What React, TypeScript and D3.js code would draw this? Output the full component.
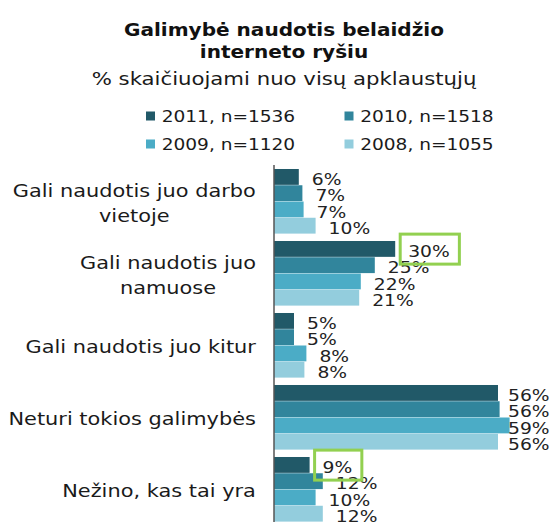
import React from 'react';
import * as d3 from 'd3';

const width = 554;
const height = 522;
const font = '"DejaVu Sans", Verdana, sans-serif';

// chart data
const categoryLines = [
  ['Gali naudotis juo darbo', 'vietoje'],
  ['Gali naudotis juo', 'namuose'],
  ['Gali naudotis juo kitur'],
  ['Neturi tokios galimybės'],
  ['Nežino, kas tai yra'],
];
const categories = categoryLines.map(l => l.join(' '));
const seriesNames = ['2011, n=1536', '2010, n=1518', '2009, n=1120', '2008, n=1055'];
const values2011 = [6.2, 30.3, 5.0, 56.0, 8.9];
const values2010 = [7.1, 25.2, 5.0, 56.4, 12.2];
const values2009 = [7.4, 21.7, 8.1, 58.9, 10.4];
const values2008 = [10.4, 21.3, 7.6, 56.0, 12.2];
const seriesValues = [values2011, values2010, values2009, values2008];
const colors = ['#215968', '#31859C', '#4BACC6', '#93CDDD'];
// highlighted labels: [series index, category index]
const highlights = [[0, 1], [0, 4]];

const title = ['Galimybė naudotis belaidžio', 'interneto ryšiu'];
const subtitle = '% skaičiuojami nuo visų apklaustųjų';

let ctx: CanvasRenderingContext2D | null = null;
function measure(text: string, size: number, weight = 'normal') {
  if (!ctx) ctx = document.createElement('canvas').getContext('2d');
  ctx!.font = `${weight} ${size}px ${font}`;
  return ctx!.measureText(text).width;
}

// text stretched horizontally, like the original rendering
function SText({x, y, sx, anchor = 'start', size, weight = 'normal', children, fill = '#1a1a1a'}: any) {
  return (
    <text transform={`translate(${x},${y}) scale(${sx},1)`} textAnchor={anchor}
      fontSize={size} fontWeight={weight} fill={fill} fontFamily={font}>{children}</text>
  );
}

const axisX = 274;
const labelSize = 15;
const labelSx = 1.25;
const catSize = 18.5;
const catSx = 1.13;

export default function App() {
  const xScale = d3.scaleLinear().domain([0, 70]).range([axisX, axisX + 280]);
  const yScale = d3.scaleBand().domain(categories).range([165.5, 525.5]).paddingInner(0.097).paddingOuter(0.0485);
  const ySub = d3.scaleBand().domain(seriesNames).range([0, yScale.bandwidth()]);

  const bars: any[] = [];
  seriesNames.forEach((s, si) => {
    categories.forEach((c, ci) => {
      const v = seriesValues[si][ci];
      const y = yScale(c)! + ySub(s)!;
      const label = `${Math.round(v)}%`;
      const lx = Math.min(xScale(v) + 13, 508);
      const ly = y + ySub.bandwidth() / 2 + 8;
      const hl = highlights.some(h => h[0] === si && h[1] === ci);
      bars.push({si, ci, v, y, label, lx, ly, hl, lw: measure(label, labelSize) * labelSx});
    });
  });

  return (
    <svg width={width} height={height} style={{position: 'absolute', left: 0, top: 0, background: '#fff'}}>
      {title.map((t, i) => (
        <SText key={i} x={284} y={35.7 + i * 22.6} sx={1.18} anchor="middle" size={17} weight="bold" fill="#111">{t}</SText>
      ))}
      <SText x={284} y={85} sx={1.18} anchor="middle" size={18}>{subtitle}</SText>

      {seriesNames.map((s, i) => {
        const lx = [146, 344.5][i % 2];
        const ly = [121.5, 149.5][Math.floor(i / 2)];
        return (
          <g key={s}>
            <rect x={lx} y={ly - 10} width={9} height={9} fill={colors[i]} />
            <SText x={lx + 15.7} y={ly} sx={1.16} size={16}>{s}</SText>
          </g>
        );
      })}

      {bars.map((d, i) => (
        <rect key={i} x={axisX} y={d.y} width={xScale(d.v) - axisX} height={ySub.bandwidth() - 0.4} fill={colors[d.si]} />
      ))}
      <line x1={axisX} x2={axisX} y1={165} y2={height} stroke="#555" strokeWidth={1.5} />

      {bars.map((d, i) => (
        <SText key={i} x={d.lx} y={d.ly} sx={labelSx} size={labelSize} fill="#222">{d.label}</SText>
      ))}
      {bars.filter(d => d.hl).map((d, i) => (
        <rect key={i} x={d.lx - 8} y={d.ly - 23} width={d.lw + 17.5} height={30}
          fill="none" stroke="#92D050" strokeWidth={3} />
      ))}

      {categoryLines.map((lines, ci) => {
        const cy = yScale(categories[ci])! + yScale.bandwidth() / 2;
        const maxW = d3.max(lines, l => measure(l, catSize))! * catSx;
        const cx = 256 - maxW / 2;
        return lines.map((l, li) => (
          <SText key={ci + '-' + li} x={cx} y={cy + (li - (lines.length - 1) / 2) * 25 + 7.7}
            sx={catSx} anchor="middle" size={catSize}>{l}</SText>
        ));
      })}
    </svg>
  );
}
